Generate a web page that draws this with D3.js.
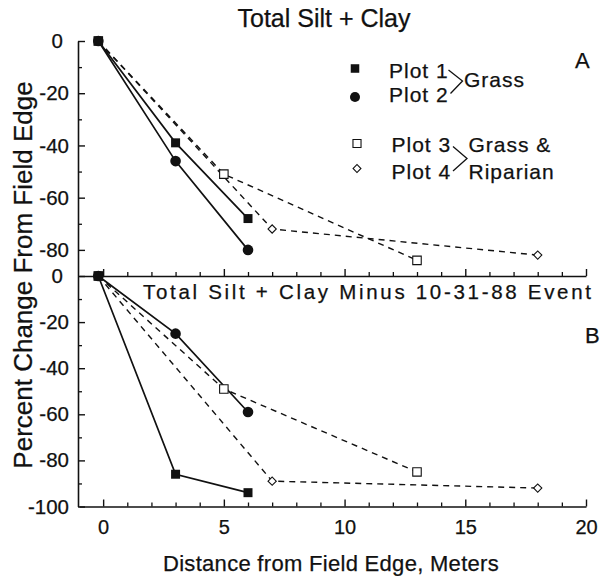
<!DOCTYPE html>
<html><head><meta charset="utf-8">
<script src="https://cdn.jsdelivr.net/npm/d3@7"></script>
<style>
body{margin:0;background:#fff}
svg text{font-family:"Liberation Sans",Arial,Helvetica,sans-serif;fill:#111;stroke:#111;stroke-width:0.25px}
</style></head><body>
<svg id="c" width="606" height="576"></svg>
<script>
// ---- data ----
const xTicks = [0, 5, 10, 15, 20];
const yTicksA = [0, -20, -40, -60, -80];
const yTicksB = [0, -20, -40, -60, -80, -100];
const plotNames = ["Plot 1", "Plot 2", "Plot 3", "Plot 4"];
const groupNames = ["Grass", "Grass &", "Riparian"];
// distance from field edge (m)
const plot1X = [-0.2, 3, 6];
const plot2X = [-0.2, 3, 6];
const plot3X = [-0.2, 5, 13];
const plot4X = [-0.2, 7, 18];
// Panel A: Total Silt + Clay (% change)
const panelA1 = [0, -39, -68];
const panelA2 = [0, -46, -80];
const panelA3 = [0, -51, -84];
const panelA4 = [0, -72, -82];
// Panel B: Total Silt + Clay Minus 10-31-88 Event (% change)
const panelB1 = [0, -86, -94];
const panelB2 = [0, -25, -59];
const panelB3 = [0, -49, -85];
const panelB4 = [0, -89, -92];

// ---- setup ----
const svg = d3.select("#c");
const x = d3.scaleLinear().domain([-1, 20]).range([79, 586]);
const yA = d3.scaleLinear().domain([-90, 0]).range([276, 41]);
const yB = d3.scaleLinear().domain([-100, 0]).range([506.5, 276]);
const INK = "#111";
const fmt = d => String(d);

const styles = [
  {sym: "fsq", dash: null},
  {sym: "fci", dash: null},
  {sym: "osq", dash: "6,5"},
  {sym: "odi", dash: "6,5"}
];
const xs = [plot1X, plot2X, plot3X, plot4X];
const ysA = [panelA1, panelA2, panelA3, panelA4];
const ysB = [panelB1, panelB2, panelB3, panelB4];

function marker(g, sym, cx, cy, scale) {
  scale = scale || 1;
  if (sym === "fsq") {
    g.append("path").attr("d", d3.symbol(d3.symbolSquare, 81 * scale)())
      .attr("transform", `translate(${cx},${cy})`).attr("fill", INK);
  } else if (sym === "fci") {
    g.append("path").attr("d", d3.symbol(d3.symbolCircle, Math.PI * 5.3 * 5.3 * scale)())
      .attr("transform", `translate(${cx},${cy})`).attr("fill", INK);
  } else if (sym === "osq") {
    g.append("path").attr("d", d3.symbol(d3.symbolSquare, 72 * scale)())
      .attr("transform", `translate(${cx},${cy})`).attr("fill", "#fff")
      .attr("stroke", INK).attr("stroke-width", 1.1);
  } else {
    g.append("path").attr("d", d3.symbol(d3.symbolSquare, 34 * scale)())
      .attr("transform", `translate(${cx},${cy}) rotate(45)`).attr("fill", "#fff")
      .attr("stroke", INK).attr("stroke-width", 1.1);
  }
}

function drawPanel(ysList, yScale) {
  const g = svg.append("g");
  const line = d3.line().x(d => x(d[0])).y(d => yScale(d[1]));
  [2, 3, 0, 1].forEach(i => {
    const pts = xs[i].map((v, k) => [v, ysList[i][k]]);
    g.append("path").attr("d", line(pts)).attr("fill", "none")
      .attr("stroke", INK).attr("stroke-width", styles[i].dash ? 1.4 : 1.7)
      .attr("stroke-dasharray", styles[i].dash);
  });
  [2, 3, 0, 1].forEach(i => {
    xs[i].forEach((v, k) => marker(g, styles[i].sym, x(v), yScale(ysList[i][k])));
  });
}

// ---- axes ----
const minorX = d3.range(1, 20).filter(d => d % 5 !== 0);
function xAxis(yPos, labels) {
  svg.append("g").attr("transform", `translate(0,${yPos})`)
    .call(d3.axisBottom(x).tickValues(minorX).tickSize(-4).tickFormat(""))
    .call(g => g.select(".domain").remove())
    .selectAll("line").attr("stroke", INK).attr("stroke-width", 1.3);
  const a = svg.append("g").attr("transform", `translate(0,${yPos})`)
    .call(d3.axisBottom(x).tickValues(xTicks).tickSize(-7).tickSizeOuter(0)
      .tickPadding(13).tickFormat(labels ? fmt : ""));
  a.select(".domain").attr("stroke", INK).attr("stroke-width", 1.6);
  a.selectAll("line").attr("stroke", INK).attr("stroke-width", 1.4);
  a.selectAll("text").attr("font-size", 20).attr("fill", INK)
    .attr("font-family", '"Liberation Sans",Arial,sans-serif');
}

function yAxis(scale, majors, minors) {
  svg.append("g").attr("transform", "translate(78,0)")
    .call(d3.axisLeft(scale).tickValues(minors).tickSize(-4).tickFormat(""))
    .call(g => g.select(".domain").remove())
    .selectAll("line").attr("stroke", INK).attr("stroke-width", 1.3);
  const a = svg.append("g").attr("transform", "translate(78,0)")
    .call(d3.axisLeft(scale).tickValues(majors).tickSize(-7).tickSizeOuter(0)
      .tickPadding(9).tickFormat(fmt));
  a.select(".domain").attr("stroke", INK).attr("stroke-width", 1.6);
  a.selectAll("line").attr("stroke", INK).attr("stroke-width", 1.4);
  a.selectAll("text").attr("font-size", 20.5).attr("fill", INK)
    .attr("font-family", '"Liberation Sans",Arial,sans-serif')
    .attr("dx", d => d === 0 ? -6 : 0);
}

yAxis(yA, yTicksA, [-10, -30, -50, -70]);
yAxis(yB, yTicksB, [-10, -30, -50, -70, -90]);
xAxis(276, false);
xAxis(506.5, true);

drawPanel(ysA, yA);
drawPanel(ysB, yB);

// ---- texts ----
svg.append("text").attr("x", 324).attr("y", 27).attr("text-anchor", "middle")
  .attr("font-size", 25).text("Total Silt + Clay");
svg.append("text").attr("x", 143).attr("y", 298.5).attr("font-size", 20.5)
  .attr("letter-spacing", "2.7px").text("Total Silt + Clay Minus 10-31-88 Event");
svg.append("text").attr("x", 575).attr("y", 67.5).attr("font-size", 22).text("A");
svg.append("text").attr("x", 585).attr("y", 342.5).attr("font-size", 22).text("B");
svg.append("text").attr("x", 331).attr("y", 571).attr("text-anchor", "middle")
  .attr("font-size", 22).attr("letter-spacing", "0.3px").text("Distance from Field Edge, Meters");
svg.append("text").attr("transform", "translate(32,275) rotate(-90)")
  .attr("text-anchor", "middle").attr("font-size", 26)
  .text("Percent Change From Field Edge");

// ---- legend ----
const lg = svg.append("g");
const legMarkers = [[355, 68.5], [355, 97], [357, 143.5], [357, 168.5]];
const legText = [[389, 77.5], [389, 102], [391.5, 152], [391.5, 178.5]];
plotNames.forEach((n, i) => {
  marker(lg, styles[i].sym, legMarkers[i][0], legMarkers[i][1], 0.9);
  lg.append("text").attr("x", legText[i][0]).attr("y", legText[i][1])
    .attr("font-size", 21).attr("letter-spacing", "1px").text(n);
});
lg.append("text").attr("x", 464).attr("y", 87).attr("font-size", 21)
  .attr("letter-spacing", "1px").text(groupNames[0]);
lg.append("text").attr("x", 468.5).attr("y", 152).attr("font-size", 21)
  .attr("letter-spacing", "1px").text(groupNames[1]);
lg.append("text").attr("x", 468.5).attr("y", 178.5).attr("font-size", 21)
  .attr("letter-spacing", "1px").text(groupNames[2]);
lg.append("path").attr("d", "M448.5,70 L462.5,81 L450.5,93.5")
  .attr("fill", "none").attr("stroke", INK).attr("stroke-width", 1.3);
lg.append("path").attr("d", "M453,146.5 L467,158.5 L453,171")
  .attr("fill", "none").attr("stroke", INK).attr("stroke-width", 1.3);
</script>
</body></html>
